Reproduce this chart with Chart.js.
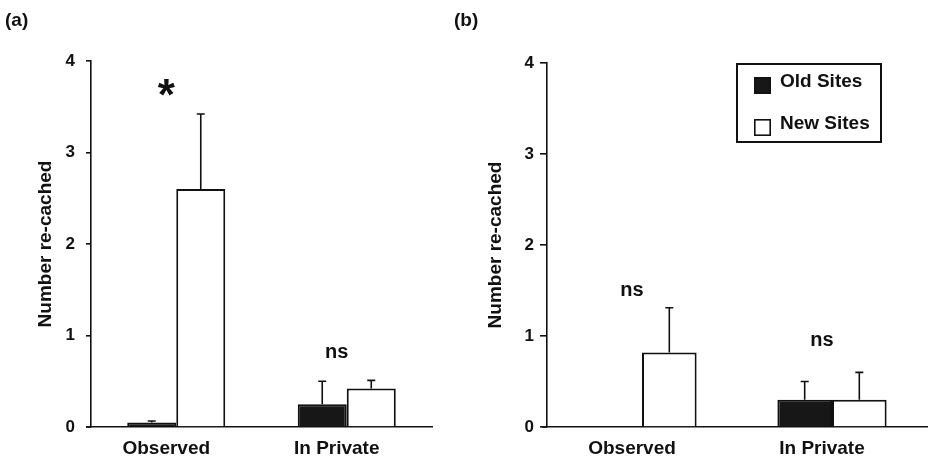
<!DOCTYPE html>
<html>
<head>
<meta charset="utf-8">
<script src="https://cdn.jsdelivr.net/npm/chart.js@4.4.1/dist/chart.umd.min.js"></script>
<style>
    html, body { margin: 0; padding: 0; background: #fff; }
    #wrap { position: relative; width: 929px; height: 459px; overflow: hidden; }
    #wrap canvas { position: absolute; top: 0; }
    .panel-tag {
        position: absolute; top: 10px;
        font: bold 19px "Liberation Sans", Arial, sans-serif; line-height: 1;
        color: #111;
    }
</style>
</head>
<body>
<div id="wrap">
    <canvas id="chartA" width="460" height="459" style="left:0"></canvas>
    <canvas id="chartB" width="469" height="459" style="left:460px"></canvas>
    <div class="panel-tag" style="left:5px">(a)</div>
    <div class="panel-tag" style="left:454px">(b)</div>
</div>
<script>
const categories = ['Observed', 'In Private'];
const seriesNames = ['Old Sites', 'New Sites'];
const yTicks = [0, 1, 2, 3, 4];

// panel (a): means and upper SE
const oldMeansA = [0.05, 0.25];
const oldSeA = [0.015, 0.25];
const newMeansA = [2.60, 0.42];
const newSeA = [0.82, 0.09];
const sigLabelsA = ['*', 'ns'];
const sigLevelsA = [3.71, 0.81];

// panel (b)
const oldMeansB = [0, 0.30];
const oldSeB = [0, 0.20];
const newMeansB = [0.82, 0.30];
const newSeB = [0.49, 0.30];
const sigLabelsB = ['ns', 'ns'];
const sigLevelsB = [1.50, 0.95];

const FONT = '"Liberation Sans", Arial, sans-serif';
const INK = '#111';

// upward error bars with a small cap
const errorBars = {
    id: 'errorBars',
    afterDatasetsDraw(chart) {
        const ctx = chart.ctx;
        const y = chart.scales.y;
        ctx.save();
        ctx.strokeStyle = INK;
        ctx.lineWidth = 1.6;
        chart.data.datasets.forEach((ds, i) => {
            chart.getDatasetMeta(i).data.forEach((bar, j) => {
                const se = ds.se[j];
                if (!se) return;
                const top = y.getPixelForValue(ds.data[j] + se);
                ctx.beginPath();
                ctx.moveTo(bar.x, bar.y);
                ctx.lineTo(bar.x, top);
                ctx.moveTo(bar.x - 4, top);
                ctx.lineTo(bar.x + 4, top);
                ctx.stroke();
            });
        });
        // x axis line runs a little past the y axis
        const a = chart.chartArea;
        ctx.lineWidth = 1.6;
        ctx.beginPath();
        ctx.moveTo(a.left - 5, a.bottom);
        ctx.lineTo(a.left, a.bottom);
        ctx.stroke();
        ctx.restore();
    }
};

// "*" / "ns" markers above each group
const sigMarks = {
    id: 'sigMarks',
    afterDraw(chart, args, opts) {
        const ctx = chart.ctx;
        const x = chart.scales.x, y = chart.scales.y;
        ctx.save();
        ctx.fillStyle = INK;
        ctx.textAlign = 'center';
        ctx.textBaseline = 'alphabetic';
        opts.labels.forEach((t, i) => {
            ctx.font = (t === '*' ? 'bold 44px ' : 'bold 20px ') + FONT;
            const m = ctx.measureText(t);
            const cy = y.getPixelForValue(opts.levels[i]);
            const by = cy + (m.actualBoundingBoxAscent - m.actualBoundingBoxDescent) / 2;
            ctx.fillText(t, x.getPixelForValue(i) - 10, by);
        });
        ctx.restore();
    }
};

// boxed legend in the upper right of the plot
const boxLegend = {
    id: 'boxLegend',
    afterDraw(chart, args, opts) {
        if (!opts.show) return;
        const ctx = chart.ctx;
        const area = chart.chartArea;
        const left = area.right - 190, top = area.top + 1, w = 144, h = 78;
        ctx.save();
        ctx.strokeStyle = INK;
        ctx.lineWidth = 2;
        ctx.strokeRect(left, top, w, h);
        ctx.font = 'bold 19px ' + FONT;
        ctx.textBaseline = 'alphabetic';
        chart.data.datasets.forEach((ds, i) => {
            const sy = top + 13 + i * 42;
            ctx.fillStyle = ds.backgroundColor;
            ctx.fillRect(left + 17, sy, 17, 17);
            ctx.lineWidth = 1.6;
            ctx.strokeRect(left + 17.8, sy + 0.8, 15.4, 15.4);
            ctx.fillStyle = INK;
            ctx.fillText(ds.label, left + 43, sy + 10);
        });
        ctx.restore();
    }
};

function makePanel(id, oldMeans, oldSe, newMeans, newSe, sigLabels, sigLevels, lay) {
    return new Chart(document.getElementById(id), {
        type: 'bar',
        data: {
            labels: categories,
            datasets: [{
                label: seriesNames[0],
                data: oldMeans,
                se: oldSe,
                backgroundColor: '#171717',
                borderColor: INK,
                borderWidth: 2
            }, {
                label: seriesNames[1],
                data: newMeans,
                se: newSe,
                backgroundColor: '#ffffff',
                borderColor: INK,
                borderWidth: 2
            }]
        },
        options: {
            responsive: false,
            devicePixelRatio: 1,
            animation: false,
            datasets: { bar: { categoryPercentage: 0.575, barPercentage: 1 } },
            layout: { padding: { left: lay.left, right: lay.right, top: lay.top, bottom: 0 } },
            plugins: {
                legend: { display: false },
                tooltip: { enabled: false },
                sigMarks: { labels: sigLabels, levels: sigLevels },
                boxLegend: { show: lay.legend }
            },
            scales: {
                x: {
                    grid: { display: false, drawTicks: false },
                    border: { display: true, color: INK, width: 1.6 },
                    ticks: {
                        color: INK,
                        font: { family: FONT, size: 19, weight: 'bold' },
                        labelOffset: -10,
                        padding: 10,
                        maxRotation: 0
                    },
                    afterFit(s) { s.height = 32; }
                },
                y: {
                    min: yTicks[0],
                    max: yTicks[yTicks.length - 1],
                    afterBuildTicks(s) { s.ticks = yTicks.map(v => ({ value: v })); },
                    grid: {
                        display: true,
                        drawOnChartArea: false,
                        drawTicks: true,
                        tickLength: lay.tickLen,
                        tickColor: INK,
                        lineWidth: 1.6
                    },
                    border: { display: true, color: INK, width: 1.6 },
                    ticks: {
                        color: INK,
                        font: { family: FONT, size: 17, weight: 'bold' },
                        padding: lay.tickPad
                    },
                    title: {
                        display: true,
                        text: 'Number re-cached',
                        color: INK,
                        font: { family: FONT, size: 19, weight: 'bold' },
                        padding: { top: 4, bottom: 0 }
                    },
                    afterFit(s) { s.width = lay.yWidth; }
                }
            }
        },
        plugins: [errorBars, sigMarks, boxLegend]
    });
}

makePanel('chartA', oldMeansA, oldSeA, newMeansA, newSeA, sigLabelsA, sigLevelsA,
    { left: 30, right: 28, top: 61, yWidth: 61, tickLen: 5, tickPad: 11, legend: false });
makePanel('chartB', oldMeansB, oldSeB, newMeansB, newSeB, sigLabelsB, sigLevelsB,
    { left: 20, right: 2, top: 63, yWidth: 67, tickLen: 7, tickPad: 6, legend: true });
</script>
</body>
</html>
